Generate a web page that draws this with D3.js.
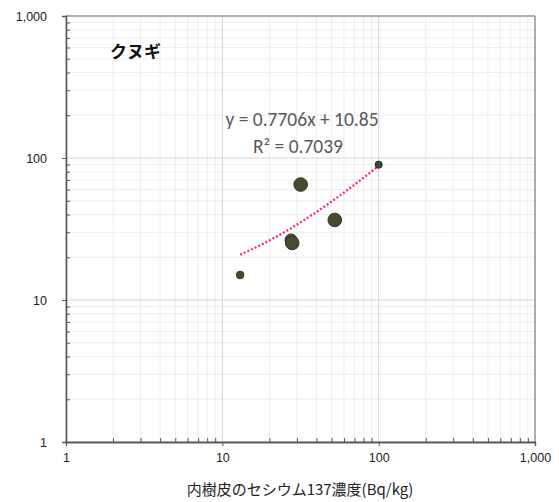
<!DOCTYPE html>
<html>
<head>
<meta charset="utf-8">
<script src="https://cdn.jsdelivr.net/npm/d3@7"></script>
<style>
  body { margin: 0; background: #fff; }
  svg { display: block; font-family: "Liberation Sans", Arial, sans-serif; }
</style>
</head>
<body>
<svg id="chart" width="559" height="502"></svg>
<script>
// data (x: 内樹皮, y: value)
var xVals = [13, 27.5, 28, 31.7, 52.4, 100];
var yVals = [15, 26.5, 25.2, 65, 36.6, 89.7];
var sizes = [3.8, 6, 6.8, 6.8, 6.8, 3.6];
var majorTicks = [1, 10, 100, 1000];
var tickLabels = ["1", "10", "100", "1,000"];
var slope = 0.7706, intercept = 10.85;
var fitRange = [13, 100];

var margin = {left: 66, top: 16, right: 24, bottom: 60};
var width = 559, height = 502;

var svg = d3.select("#chart");

var x = d3.scaleLog().domain([1, 1000]).range([margin.left, width - margin.right]);
var y = d3.scaleLog().domain([1, 1000]).range([height - margin.bottom, margin.top]);

// minor values 2..9 per decade
var minor = [];
for (var d = 1; d < 1000; d *= 10) {
  for (var k = 2; k <= 9; k++) minor.push(d * k);
}

// grid
var grid = svg.append("g");
grid.selectAll(".gxm").data(minor).enter().append("line")
    .attr("x1", x).attr("x2", x)
    .attr("y1", y(1)).attr("y2", y(1000))
    .attr("stroke", "#eeeeee").attr("stroke-width", 1);
grid.selectAll(".gym").data(minor).enter().append("line")
    .attr("y1", y).attr("y2", y)
    .attr("x1", x(1)).attr("x2", x(1000))
    .attr("stroke", "#eeeeee").attr("stroke-width", 1);
grid.selectAll(".gx").data(majorTicks).enter().append("line")
    .attr("x1", x).attr("x2", x)
    .attr("y1", y(1)).attr("y2", y(1000))
    .attr("stroke", "#d4d4d4").attr("stroke-width", 1);
grid.selectAll(".gy").data(majorTicks).enter().append("line")
    .attr("y1", y).attr("y2", y)
    .attr("x1", x(1)).attr("x2", x(1000))
    .attr("stroke", "#d4d4d4").attr("stroke-width", 1);

// top / right frame
svg.append("line").attr("x1", x(1)).attr("x2", x(1000)).attr("y1", y(1000)).attr("y2", y(1000))
    .attr("stroke", "#9a9a9a").attr("stroke-width", 1.5);
svg.append("line").attr("x1", x(1000)).attr("x2", x(1000)).attr("y1", y(1)).attr("y2", y(1000))
    .attr("stroke", "#9a9a9a").attr("stroke-width", 1.5);

// axes
var fmt = function(d) { return tickLabels[majorTicks.indexOf(d)]; };

svg.append("g").attr("transform", "translate(0," + y(1) + ")")
    .call(d3.axisBottom(x).tickValues(majorTicks).tickFormat(fmt).tickSize(4).tickPadding(7));
svg.append("g").attr("transform", "translate(0," + y(1) + ")")
    .call(d3.axisBottom(x).tickValues(minor).tickFormat("").tickSizeInner(-4).tickSizeOuter(0));

svg.append("g").attr("transform", "translate(" + x(1) + ",0)")
    .call(d3.axisLeft(y).tickValues(majorTicks).tickFormat(fmt).tickSize(4).tickPadding(15));
svg.append("g").attr("transform", "translate(" + x(1) + ",0)")
    .call(d3.axisLeft(y).tickValues(minor).tickFormat("").tickSizeInner(-4).tickSizeOuter(0));

svg.selectAll(".domain").attr("stroke", "#555").attr("stroke-width", 1.3);
svg.selectAll(".tick line").attr("stroke", "#555");
svg.selectAll(".tick text").attr("font-size", 12.5).attr("fill", "#222")
    .attr("font-family", "'Liberation Sans', Arial, sans-serif");

// trendline y = a x + b, drawn on log axes
var fitX = d3.range(0, 41).map(function(i) {
  return fitRange[0] * Math.pow(fitRange[1] / fitRange[0], i / 40);
});
var line = d3.line()
    .x(function(d) { return x(d); })
    .y(function(d) { return y(slope * d + intercept); });
svg.append("path").datum(fitX)
    .attr("d", line)
    .attr("fill", "none")
    .attr("stroke", "#ff2a6d")
    .attr("stroke-width", 2.3)
    .attr("stroke-dasharray", "2,2");

// points
svg.selectAll(".pt").data(xVals).enter().append("circle")
    .attr("cx", function(d) { return x(d); })
    .attr("cy", function(d, i) { return y(yVals[i]); })
    .attr("r", function(d, i) { return sizes[i]; })
    .attr("fill", function(d, i) { return i == 5 ? "#3e4438" : "#454b2e"; })
    .attr("stroke", "#2f3322")
    .attr("stroke-width", 1);

// texts
svg.append("text").attr("x", 110).attr("y", 58)
    .attr("font-family", "'Noto Sans CJK JP', sans-serif")
    .attr("font-size", 17).attr("font-weight", "bold").attr("fill", "#111")
    .text("クヌギ");

var eq = svg.append("text").attr("text-anchor", "middle")
    .attr("font-family", "Carlito, 'Open Sans', sans-serif")
    .attr("font-size", 19.5).attr("fill", "#595959");
eq.append("tspan").attr("x", 302).attr("y", 126).text("y = 0.7706x + 10.85");
eq.append("tspan").attr("x", 298).attr("y", 153).text("R² = 0.7039");

svg.append("text").attr("x", 300).attr("y", 495).attr("text-anchor", "middle")
    .attr("font-family", "'Noto Sans CJK JP', sans-serif")
    .attr("font-size", 15).attr("fill", "#222")
    .text("内樹皮のセシウム137濃度(Bq/kg)");
</script>
</body>
</html>
